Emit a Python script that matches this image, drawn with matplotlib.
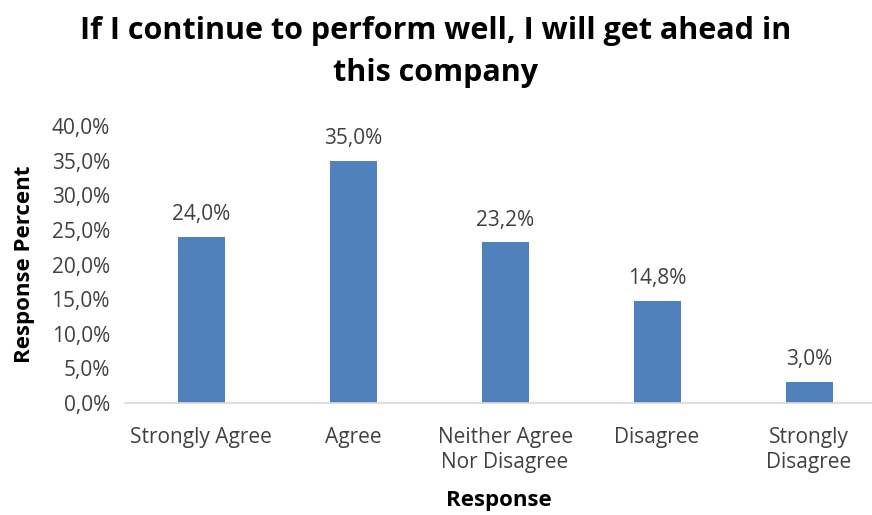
import matplotlib
matplotlib.use("Agg")
import matplotlib.pyplot as plt
from matplotlib.ticker import FuncFormatter

# survey answers and their share of responses
responses = ["Strongly Agree", "Agree", "Neither Agree\nNor Disagree", "Disagree", "Strongly\nDisagree"]
percents = [24.0, 35.0, 23.2, 14.8, 3.0]
yticks = [0, 5, 10, 15, 20, 25, 30, 35, 40]

plt.rcParams['font.family'] = ['Open Sans', 'DejaVu Sans']
bar_color = '#4F81BD'
text_color = '#404040'


def comma_pct(v, pos=None):
    return '{:.1f}%'.format(v).replace('.', ',')


fig = plt.figure(figsize=(8.72, 5.15), dpi=100)
ax = fig.add_axes([0.1435, 0.2175, 0.8565, 0.5378])

xs = list(range(len(responses)))
bars = ax.bar(xs, percents, width=0.31, color=bar_color)

for b, v in zip(bars, percents):
    ax.text(b.get_x() + b.get_width() / 2, v + 1.7, comma_pct(v),
            ha='center', va='bottom', fontsize=15, color=text_color)

ax.set_xlim(-0.5, 4.414)
ax.set_ylim(0, 40)
ax.set_yticks(yticks)
ax.yaxis.set_major_formatter(FuncFormatter(comma_pct))
ax.set_xticks(xs)
ax.set_xticklabels(responses, fontsize=15, color=text_color, linespacing=1.3)
ax.tick_params(axis='y', labelsize=15, labelcolor=text_color, length=0, pad=11)
ax.tick_params(axis='x', length=0, pad=17)

for side in ['top', 'right', 'left']:
    ax.spines[side].set_visible(False)
ax.spines['bottom'].set_color('#D9D9D9')
ax.spines['bottom'].set_linewidth(1.2)

ax.set_ylabel('Response Percent', fontsize=16, fontweight='bold', color='black', labelpad=12)
ax.set_xlabel('Response', fontsize=16, fontweight='bold', color='black', labelpad=12)

fig.text(0.5, 0.968, 'If I continue to perform well, I will get ahead in\nthis company',
         ha='center', va='top', fontsize=22, fontweight='bold', linespacing=1.5)

fig.savefig('out.png', dpi=100)
